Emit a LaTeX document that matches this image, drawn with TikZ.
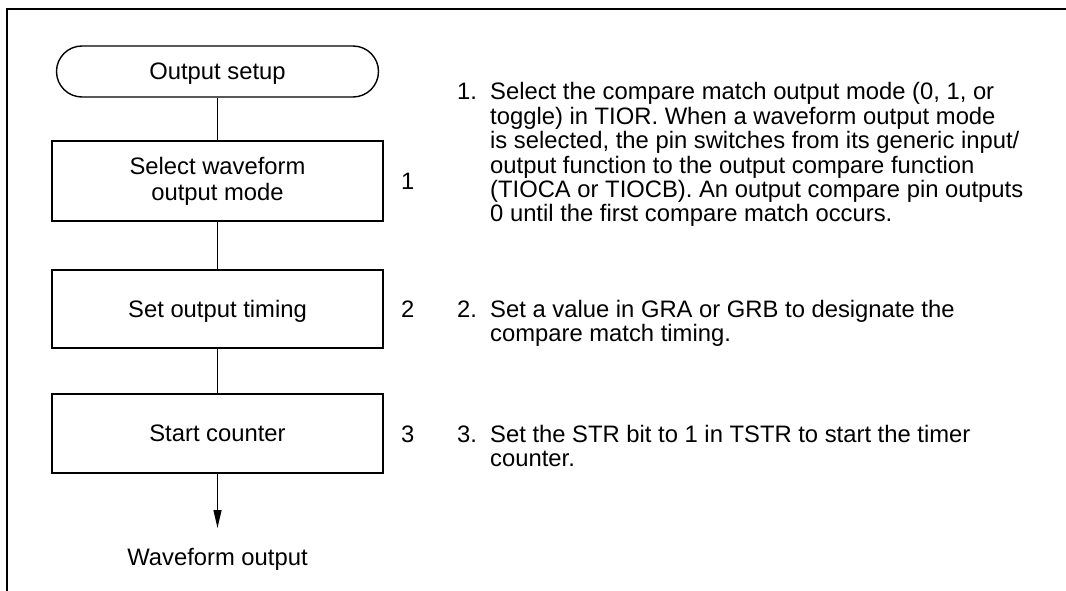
\documentclass[tikz,border=0pt]{standalone}
\usepackage{fontspec}
\setmainfont{Liberation Sans}
\usetikzlibrary{arrows.meta}
\begin{document}
\begin{tikzpicture}[x=1pt,y=-1pt,
  font=\fontsize{23.8}{24.4}\selectfont,
  boxnode/.style={draw, line width=1.4pt, minimum width=331pt, inner sep=0pt, align=center, font=\fontsize{23.8}{26}\selectfont},
  termnode/.style={draw, line width=1.4pt, rounded corners=25.5pt, minimum width=322pt, minimum height=51pt, inner sep=0pt, text depth=0pt},
  txt/.style={anchor=base west, inner sep=0pt},
  conn/.style={line width=1.2pt},
  frameline/.style={line width=2pt}]
\useasboundingbox (0,0) rectangle (1066,591);
% frame
\coordinate (fr1) at (1066,8.7);
\coordinate (fr2) at (6.5,8.7);
\coordinate (fr3) at (6.5,591);
\draw[frameline] (fr1) -- (fr2) -- (fr3);
% flow
\node[termnode] (term) at (217.5,71.5) {Output setup};
\node[boxnode, minimum height=80pt] (b1) at (217.5,181) {Select waveform\\output mode};
\node[boxnode, minimum height=78pt, text depth=0pt] (b2) at (217.5,309) {Set output timing};
\node[boxnode, minimum height=79pt, text depth=0pt] (b3) at (217.5,433.5) {Start counter};
\node[anchor=base, inner sep=0pt] (out) at (217.5,565.5) {Waveform output};
\coordinate (tip) at (217.5,528);
\draw[conn] (term) -- (b1);
\draw[conn] (b1) -- (b2);
\draw[conn] (b2) -- (b3);
\draw[conn,-{Triangle[length=18pt,width=8pt]}] (b3) -- (tip);
% step numbers
\node[txt] (n1) at (401,189.5) {1};
\node[txt] (n2) at (401,317.5) {2};
\node[txt] (n3) at (401,442) {3};
% descriptions
\node[txt] (i1) at (457,100) {1.};
\node[txt] (d11) at (490,100) {Select the compare match output mode (0, 1, or};
\node[txt] (d12) at (490,124.4) {toggle) in TIOR. When a waveform output mode};
\node[txt] (d13) at (490,148.8) {is selected, the pin switches from its generic input/};
\node[txt] (d14) at (490,173.2) {output function to the output compare function};
\node[txt] (d15) at (490,197.6) {(TIOCA or TIOCB). An output compare pin outputs};
\node[txt] (d16) at (490,222) {0 until the first compare match occurs.};
\node[txt] (i2) at (457,317.5) {2.};
\node[txt] (d21) at (490,317.5) {Set a value in GRA or GRB to designate the};
\node[txt] (d22) at (490,341.9) {compare match timing.};
\node[txt] (i3) at (457,442) {3.};
\node[txt] (d31) at (490,442) {Set the STR bit to 1 in TSTR to start the timer};
\node[txt] (d32) at (490,466.4) {counter.};
\end{tikzpicture}
\end{document}
